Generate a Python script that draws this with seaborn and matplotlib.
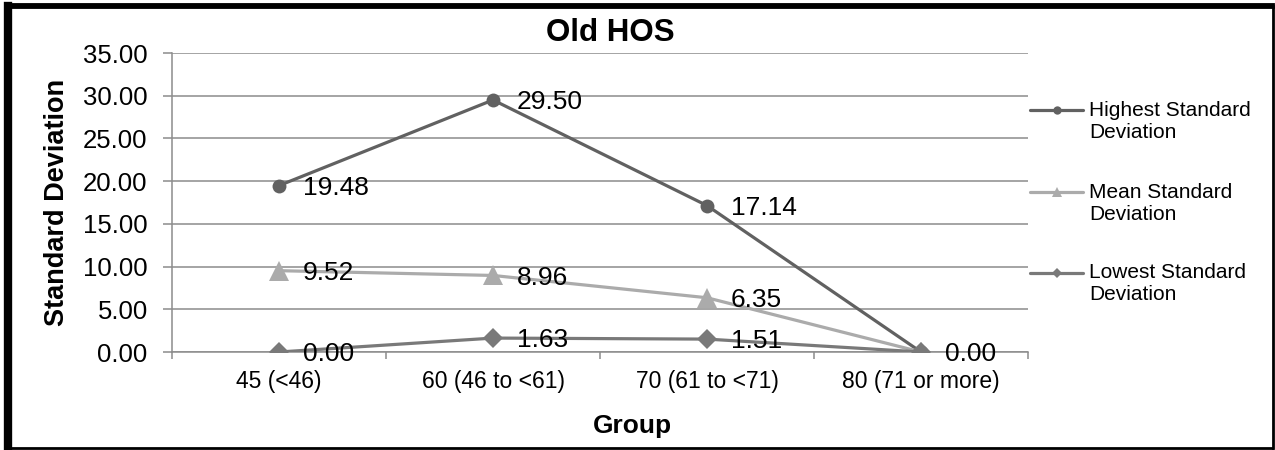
import matplotlib
matplotlib.use("Agg")
import matplotlib.pyplot as plt
from matplotlib.lines import Line2D
from matplotlib.ticker import FixedLocator, FormatStrFormatter
import seaborn as sns
import pandas as pd

# ---- data ----
groups = ["45 (<46)", "60 (46 to <61)", "70 (61 to <71)", "80 (71 or more)"]
series_names = ["Highest Standard\nDeviation", "Mean Standard\nDeviation", "Lowest Standard\nDeviation"]
highest_sd = [19.48, 29.50, 17.14, 0.00]
mean_sd = [9.52, 8.96, 6.35, 0.00]
lowest_sd = [0.00, 1.63, 1.51, 0.00]
y_ticks = [0, 5, 10, 15, 20, 25, 30, 35]

# ---- styles ----
colors = ["#616161", "#ababab", "#797979"]
markers = ["o", "^", "D"]
marker_sizes = [10, 15, 10]
legend_marker_sizes = [6, 7, 5]

sns.set_theme(style="white")
plt.rcParams["font.family"] = ["Liberation Sans", "DejaVu Sans"]

fig = plt.figure(figsize=(12.75, 4.5), dpi=100)
W, H = 1275.0, 450.0
ax = fig.add_axes([172 / W, 1 - 352 / H, (1028 - 172) / W, (352 - 53) / H])

values = [highest_sd, mean_sd, lowest_sd]
labelled = set()
for name, vals, col, mk, ms in zip(series_names, values, colors, markers, marker_sizes):
    df = pd.DataFrame({"Group": groups, "SD": vals})
    sns.lineplot(data=df, x="Group", y="SD", ax=ax, color=col, marker=mk,
                 markersize=ms, markeredgewidth=0, linewidth=2.3, sort=False,
                 legend=False, zorder=3)
    for i, v in enumerate(vals):
        # coincident points share one value label
        if (i, v) in labelled:
            continue
        labelled.add((i, v))
        ax.annotate(f"{v:.2f}", xy=(i, v), xytext=(17, -1.5), textcoords="offset points",
                    ha="left", va="center", fontsize=19, color="black", zorder=4)

ax.set_xlim(-0.5, 3.5)
ax.set_ylim(0, 35)
ax.yaxis.set_major_locator(FixedLocator(y_ticks))
ax.yaxis.set_major_formatter(FormatStrFormatter("%.2f"))
ax.xaxis.set_minor_locator(FixedLocator([-0.5, 0.5, 1.5, 2.5, 3.5]))

grid_col = "#8c8c8c"
ax.grid(axis="y", color=grid_col, linewidth=1.1, zorder=0)
ax.grid(axis="x", visible=False)
for s in ["top", "right"]:
    ax.spines[s].set_visible(False)
for s in ["left", "bottom"]:
    ax.spines[s].set_color(grid_col)
    ax.spines[s].set_linewidth(1.1)

ax.tick_params(axis="y", which="major", left=True, length=6.5, width=1.1, color=grid_col,
               pad=11, labelsize=18.5, labelcolor="black")
ax.tick_params(axis="x", which="major", bottom=True, length=0, pad=13, labelsize=16.5,
               labelcolor="black")
ax.tick_params(axis="x", which="minor", bottom=True, length=5, width=1.1, color=grid_col)

ax.set_ylabel("Standard Deviation", fontsize=19.5, fontweight="bold", color="black")
ax.yaxis.set_label_coords((70 - 172) / 856, 0.5)
ax.set_xlabel("Group", fontsize=19, fontweight="bold", color="black")
ax.xaxis.set_label_coords((632 - 172) / 856, (352 - 414) / 299)

fig.text(610 / W, 1 - 33 / H, "Old HOS", ha="center", va="center",
         fontsize=22.5, fontweight="bold", color="black")

# legend drawn beside the axes
handle_y = [110, 192, 273]
for name, col, mk, lms, hy in zip(series_names, colors, markers, legend_marker_sizes, handle_y):
    fig.add_artist(Line2D([1030 / W, 1083 / W], [1 - hy / H, 1 - hy / H],
                          transform=fig.transFigure, color=col, linewidth=2.3))
    fig.add_artist(Line2D([1056.5 / W], [1 - hy / H], transform=fig.transFigure,
                          color=col, marker=mk, markersize=lms, markeredgewidth=0,
                          linestyle="none"))
    fig.text(1089 / W, 1 - (hy + 11) / H, name, ha="left", va="center",
             fontsize=15, color="black", linespacing=1.2)

# outer frame
frame_kw = dict(transform=fig.transFigure, color="black", solid_capstyle="projecting")
fig.add_artist(Line2D([7.5 / W, 7.5 / W], [1 - 6 / H, 1 - 447.5 / H], linewidth=6, **frame_kw))
fig.add_artist(Line2D([7.5 / W, 1272 / W], [1 - 6 / H, 1 - 6 / H], linewidth=4.2, **frame_kw))
fig.add_artist(Line2D([1272.5 / W, 1272.5 / W], [1 - 6 / H, 1 - 447.5 / H], linewidth=2, **frame_kw))
fig.add_artist(Line2D([7.5 / W, 1272 / W], [1 - 448 / H, 1 - 448 / H], linewidth=2, **frame_kw))

fig.savefig("out.png", dpi=100, facecolor="white")
